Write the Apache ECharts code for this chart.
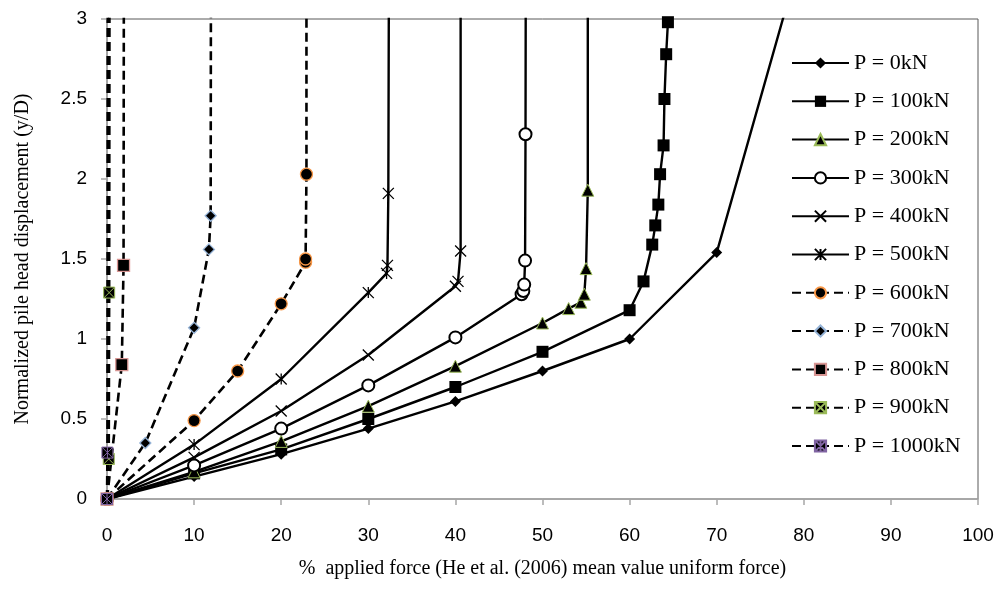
<!DOCTYPE html>
<html>
<head>
<meta charset="utf-8">
<script src="https://cdn.jsdelivr.net/npm/echarts@6/dist/echarts.min.js"></script>
<style>
  html, body { margin: 0; padding: 0; background: #fff; }
  #chart { width: 997px; height: 594px; }
</style>
</head>
<body>
<div id="chart"></div>
<script>
// load steps, kN
const loadNames = ['P = 0kN', 'P = 100kN', 'P = 200kN', 'P = 300kN', 'P = 400kN', 'P = 500kN',
  'P = 600kN', 'P = 700kN', 'P = 800kN', 'P = 900kN', 'P = 1000kN'];

// % applied force (x) and y/D (y); last point of each runs off the top of the plot
const p0x = [0, 10, 20, 30, 40, 50, 60, 70, 82.8];
const p0y = [0, 0.14, 0.28, 0.44, 0.61, 0.80, 1.00, 1.54, 4];
const p100x = [0, 10, 20, 30, 40, 50, 60, 61.6, 62.6, 62.95, 63.3, 63.5, 63.9, 64.0, 64.2, 64.4, 64.6];
const p100y = [0, 0.16, 0.31, 0.50, 0.70, 0.92, 1.18, 1.36, 1.59, 1.71, 1.84, 2.03, 2.21, 2.50, 2.78, 2.98, 4];
const p200x = [0, 10, 20, 30, 40, 50, 53, 54.4, 54.8, 55.0, 55.2, 55.2];
const p200y = [0, 0.17, 0.36, 0.58, 0.83, 1.10, 1.19, 1.23, 1.28, 1.44, 1.93, 4];
const p300x = [0, 10, 20, 30, 40, 47.6, 47.8, 47.9, 48.0, 48.05, 48.1];
const p300y = [0, 0.21, 0.44, 0.71, 1.01, 1.28, 1.30, 1.34, 1.49, 2.28, 4];
const p400x = [0, 10, 20, 30, 40, 40.3, 40.6, 40.6];
const p400y = [0, 0.26, 0.55, 0.90, 1.33, 1.36, 1.55, 4];
const p500x = [0, 10, 20, 30, 32.1, 32.2, 32.3, 32.4];
const p500y = [0, 0.34, 0.75, 1.29, 1.41, 1.46, 1.91, 4];
const p600x = [0, 10, 15, 20, 22.8, 22.8, 22.9, 22.9];
const p600y = [0, 0.49, 0.80, 1.22, 1.48, 1.50, 2.03, 4];
const p700x = [0, 4.4, 10, 11.7, 11.9, 11.95];
const p700y = [0, 0.35, 1.07, 1.56, 1.77, 4];
const p800x = [0, 1.7, 1.9, 1.95];
const p800y = [0, 0.84, 1.46, 4];
const p900x = [0, 0.2, 0.25, 0.3];
const p900y = [0, 0.25, 1.29, 4];
const p1000x = [0, 0.05, 0.1];
const p1000y = [0, 0.29, 4];

const xTicks = { min: 0, max: 100, interval: 10 };
const yTicks = { min: 0, max: 3, interval: 0.5 };

const xMark = 'path://M0,0L10,10M10,0L0,10';
const starMark = 'path://M0,0L10,10M10,0L0,10M5,0L5,10';
const boxX = 'path://M0,0L10,0L10,10L0,10ZM0,0L10,10M10,0L0,10';
const boxStar = 'path://M0,0L10,0L10,10L0,10ZM0,0L10,10M10,0L0,10M5,0L5,10';

function pts(xs, ys) {
  return xs.map((x, i) => [x, ys[i]]);
}

const solid = { color: '#000', width: 2.4, type: 'solid' };
const dashed = { color: '#000', width: 2.6, type: [9, 5] };

const seriesDefs = [
  { xs: p0x, ys: p0y, symbol: 'diamond', size: 11, line: solid, item: { color: '#000' } },
  { xs: p100x, ys: p100y, symbol: 'rect', size: 12, line: solid, item: { color: '#000' } },
  { xs: p200x, ys: p200y, symbol: 'triangle', size: 12, line: solid, item: { color: '#000', borderColor: '#9bbb59', borderWidth: 1 } },
  { xs: p300x, ys: p300y, symbol: 'emptyCircle', size: 12, line: solid, item: { color: '#000', borderWidth: 1.2 } },
  { xs: p400x, ys: p400y, symbol: xMark, size: 11, line: solid, item: { color: 'none', borderColor: '#000', borderWidth: 1.3 } },
  { xs: p500x, ys: p500y, symbol: starMark, size: 11, line: solid, item: { color: 'none', borderColor: '#000', borderWidth: 1.3 } },
  { xs: p600x, ys: p600y, symbol: 'circle', size: 12, line: dashed, item: { color: '#000', borderColor: '#f79646', borderWidth: 1.3 } },
  { xs: p700x, ys: p700y, symbol: 'diamond', size: 11, line: dashed, item: { color: '#000', borderColor: '#95b3d7', borderWidth: 1.3 } },
  { xs: p800x, ys: p800y, symbol: 'rect', size: 12, line: dashed, item: { color: '#000', borderColor: '#d99694', borderWidth: 1.3 } },
  { xs: p900x, ys: p900y, symbol: boxX, size: 11, line: dashed, item: { color: '#000', borderColor: '#9bbb59', borderWidth: 1 } },
  { xs: p1000x, ys: p1000y, symbol: boxStar, size: 11, line: dashed, item: { color: '#000', borderColor: '#8064a2', borderWidth: 1 } }
];

const series = seriesDefs.map((d, i) => ({
  name: loadNames[i],
  type: 'line',
  data: pts(d.xs, d.ys),
  symbol: d.symbol,
  symbolSize: d.size,
  showAllSymbol: true,
  clip: true,
  lineStyle: d.line,
  itemStyle: d.item,
  emphasis: { disabled: true },
  animation: false
}));

const chart = echarts.init(document.getElementById('chart'));
chart.setOption({
  backgroundColor: '#fff',
  animation: false,
  grid: {
    left: 107, right: 19, top: 19, bottom: 95,
    show: true, borderColor: '#595959', borderWidth: 1
  },
  legend: {
    orient: 'vertical',
    left: 786,
    top: 47,
    itemWidth: 57,
    itemHeight: 14,
    itemGap: 16.3,
    data: loadNames,
    textStyle: { fontFamily: 'Liberation Serif', fontSize: 22, color: '#000', lineHeight: 22 }
  },
  xAxis: {
    type: 'value',
    min: xTicks.min, max: xTicks.max, interval: xTicks.interval,
    name: '%  applied force (He et al. (2006) mean value uniform force)',
    nameLocation: 'middle',
    nameGap: 60,
    nameTextStyle: { fontFamily: 'Liberation Serif', fontSize: 20, color: '#000' },
    axisLine: { show: true, lineStyle: { color: '#a6a6a6', width: 1.5 } },
    axisTick: { show: true, length: 6, lineStyle: { color: '#a6a6a6', width: 1.5 } },
    axisLabel: { fontFamily: 'Liberation Sans', fontSize: 19, color: '#000', margin: 27 },
    splitLine: { show: false }
  },
  yAxis: {
    type: 'value',
    min: yTicks.min, max: yTicks.max, interval: yTicks.interval,
    name: 'Normalized pile head displacement (y/D)',
    nameLocation: 'middle',
    nameGap: 74,
    nameTextStyle: { fontFamily: 'Liberation Serif', fontSize: 20, color: '#000' },
    axisLine: { show: true, lineStyle: { color: '#a6a6a6', width: 1.5 } },
    axisTick: { show: true, length: 6, lineStyle: { color: '#a6a6a6', width: 1.5 } },
    axisLabel: { fontFamily: 'Liberation Sans', fontSize: 19, color: '#000', margin: 20 },
    splitLine: { show: false }
  },
  series: series
});
</script>
</body>
</html>
